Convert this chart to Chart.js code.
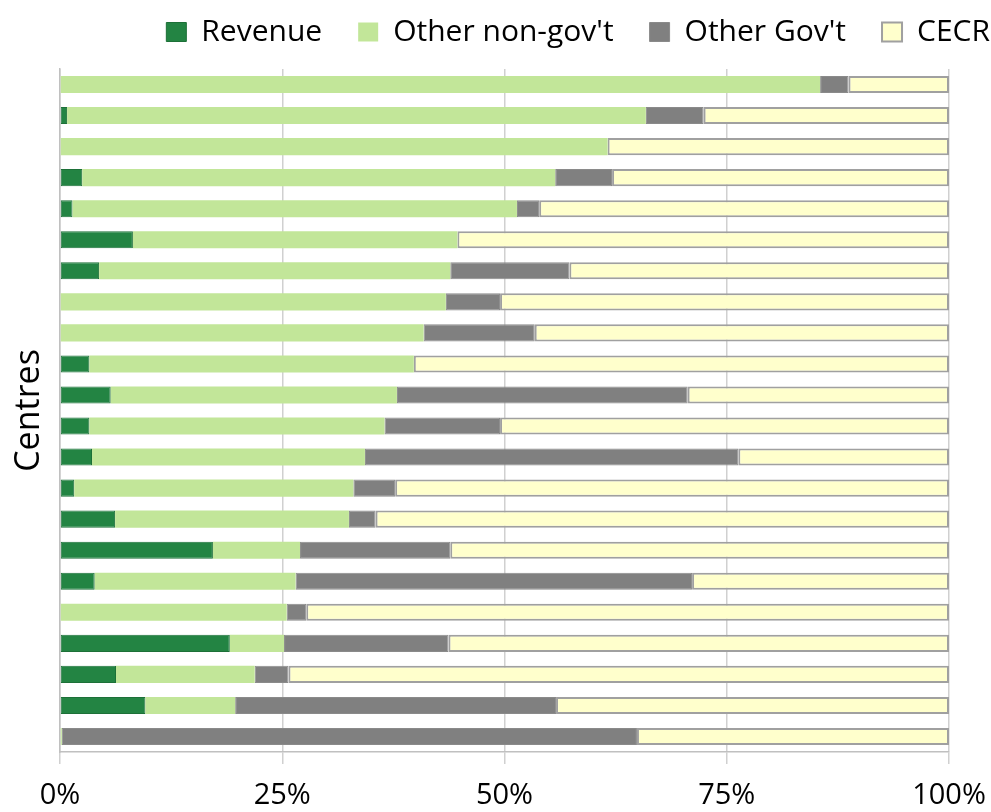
<!DOCTYPE html>
<html>
<head>
<meta charset="utf-8">
<script src="https://cdn.jsdelivr.net/npm/chart.js@4.4.1/dist/chart.umd.min.js"></script>
<style>
  html, body { margin: 0; padding: 0; background: #ffffff; }
  #wrap { width: 991px; height: 812px; }
</style>
</head>
<body>
<div id="wrap"><canvas id="c" width="991" height="812"></canvas></div>
<script>
const centres = ['Centre 1','Centre 2','Centre 3','Centre 4','Centre 5','Centre 6','Centre 7','Centre 8','Centre 9','Centre 10','Centre 11','Centre 12','Centre 13','Centre 14','Centre 15','Centre 16','Centre 17','Centre 18','Centre 19','Centre 20','Centre 21','Centre 22'];
const revenue   = [0, 0.8, 0, 2.5, 1.4, 8.2, 4.4, 0, 0, 3.3, 5.7, 3.3, 3.6, 1.6, 6.2, 17.2, 3.9, 0, 19.1, 6.3, 9.6, 0];
const otherNonGov = [85.5, 65.1, 61.6, 53.2, 50.0, 36.5, 39.5, 43.4, 40.9, 36.5, 32.2, 33.2, 30.7, 31.4, 26.3, 9.8, 22.6, 25.5, 6.1, 15.6, 10.1, 0.2];
const otherGov  = [3.2, 6.5, 0, 6.4, 2.5, 0, 13.4, 6.1, 12.5, 0, 32.7, 13.0, 42.0, 4.7, 3.0, 16.9, 44.6, 2.2, 18.5, 3.8, 36.1, 64.7];
const cecr      = [11.3, 27.6, 38.4, 37.9, 46.1, 55.3, 42.7, 50.5, 46.6, 60.2, 29.4, 50.5, 23.7, 62.3, 64.5, 56.1, 28.9, 72.3, 56.3, 74.3, 44.2, 35.1];
const xTicks = [0, 25, 50, 75, 100];

const FONT = "'Open Sans', sans-serif";

// legend placement tweak: fixed legend box height, and a shift of its drawing
const legendTweak = {
  id: 'legendTweak',
  beforeLayout(chart) {
    const lg = chart.legend;
    if (lg && !lg.__tweaked) {
      const fit = lg.fit, draw = lg.draw;
      lg.fit = function () { fit.call(this); this.height = 69; };
      lg.draw = function (area) {
        const ctx = this.ctx;
        ctx.save();
        ctx.translate(77, -19);
        draw.call(this, area);
        ctx.restore();
      };
      lg.__tweaked = true;
    }
  }
};

new Chart(document.getElementById('c'), {
  type: 'bar',
  data: {
    labels: centres,
    datasets: [
      { label: 'Revenue', data: revenue, backgroundColor: '#238443', borderColor: '#1d7038', borderWidth: 1 },
      { label: "Other non-gov't", data: otherNonGov, backgroundColor: '#c2e699', borderColor: '#c2e699', borderWidth: 0 },
      { label: "Other Gov't", data: otherGov, backgroundColor: '#808080', borderColor: '#8a8a8a', borderWidth: 1 },
      { label: 'CECR', data: cecr, backgroundColor: '#ffffcc', borderColor: '#a0a0a0', borderWidth: 2 }
    ]
  },
  plugins: [legendTweak],
  options: {
    indexAxis: 'y',
    responsive: false,
    animation: false,
    devicePixelRatio: 1,
    datasets: { bar: { categoryPercentage: 1.0, barPercentage: 0.55, borderSkipped: false } },
    layout: { padding: { top: 0, right: 42, left: 0, bottom: 0 } },
    plugins: {
      legend: {
        position: 'top',
        align: 'end',
        labels: {
          font: { family: FONT, size: 30 },
          color: '#000000',
          boxWidth: 20,
          boxHeight: 19,
          padding: 36
        }
      },
      tooltip: { enabled: false }
    },
    scales: {
      x: {
        stacked: true,
        min: 0,
        max: 100,
        afterBuildTicks: (s) => { s.ticks = xTicks.map(v => ({ value: v })); },
        afterFit: (s) => { s.height = 60; s.paddingRight = 0; s.paddingLeft = 0; },
        ticks: {
          font: { family: FONT, size: 29 },
          color: '#000000',
          padding: 14,
          maxRotation: 0,
          callback: (v) => v + '%'
        },
        grid: { color: '#d0d0d0', lineWidth: 1.5, tickLength: 12, drawTicks: true },
        border: { display: true, color: '#c0c0c0', width: 1.5 }
      },
      y: {
        stacked: true,
        afterFit: (s) => { s.width = 60; },
        ticks: { display: false },
        grid: { display: false, drawTicks: false },
        border: { display: true, color: '#c0c0c0', width: 1.5 },
        title: {
          display: true,
          text: 'Centres',
          font: { family: FONT, size: 34 },
          color: '#000000',
          padding: { top: 9, bottom: 0 }
        }
      }
    }
  }
});
</script>
</body>
</html>
